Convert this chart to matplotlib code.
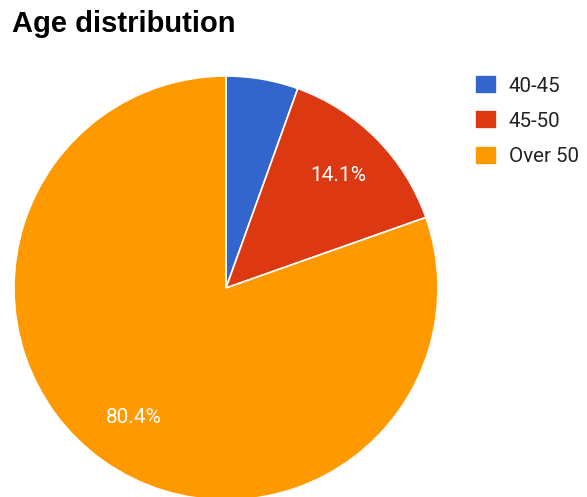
import matplotlib.pyplot as plt

# age groups and their shares (percent)
grupos = ['40-45', '45-50', 'Over 50']
valores = [5.5, 14.1, 80.4]
cores = ['#3366CC', '#DC3912', '#FF9900']

W, H = 587, 497
fig = plt.figure(figsize=(W/100, H/100), dpi=100)

# pie centre (226, 288) px from top-left, radius 212 px
cx, cy, r = 226, 288, 212
ax = fig.add_axes([(cx-r)/W, (H-cy-r)/H, 2*r/W, 2*r/H])

def rotulo(p):
    # small slices get no label
    return '%.1f%%' % p if p > 8 else ''

fatias, textos, pcts = ax.pie(valores, colors=cores, startangle=90, counterclock=False,
                              autopct=rotulo, pctdistance=0.75,
                              wedgeprops=dict(edgecolor='white', linewidth=1.2),
                              textprops=dict(color='white', family='Roboto', fontsize=15))
ax.set_xlim(-1, 1)
ax.set_ylim(-1, 1)
ax.set_aspect('equal')
ax.axis('off')

fig.text(12/W, 1-10/H, 'Age distribution', fontsize=21, fontweight='bold',
         family='Liberation Sans', va='top', ha='left')

fig.legend(fatias, grupos, loc='upper left', bbox_to_anchor=(475/W, 1-75/H),
           frameon=False, borderpad=0, borderaxespad=0, handlelength=1.05, handleheight=1.05,
           handletextpad=0.6, labelspacing=0.72,
           prop=dict(family='Roboto', size=14.8), labelcolor='#222222')

fig.savefig('out.png', dpi=100)
